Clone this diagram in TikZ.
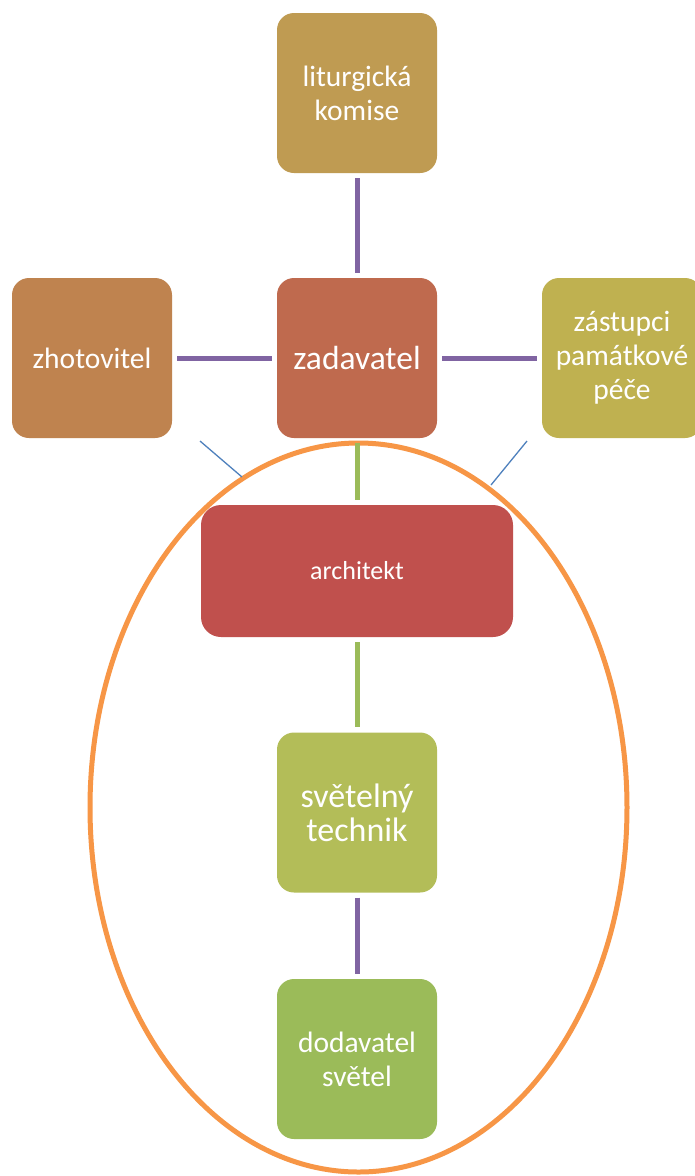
\documentclass[tikz,border=0pt]{standalone}
\usepackage{fontspec}
\setmainfont{Carlito}
\definecolor{cLit}{HTML}{BF9B52}
\definecolor{cZho}{HTML}{BF834F}
\definecolor{cZad}{HTML}{BF6A4E}
\definecolor{cZas}{HTML}{BFB150}
\definecolor{cArch}{HTML}{C0504D}
\definecolor{cSvt}{HTML}{B3BD58}
\definecolor{cDod}{HTML}{9BBB59}
\definecolor{cPurple}{HTML}{8064A2}
\definecolor{cGreen}{HTML}{9BBB59}
\definecolor{cOrange}{HTML}{F79646}
\definecolor{cBlue}{HTML}{4F81BD}
\begin{document}
\begin{tikzpicture}[x=1pt,y=-1pt,
  box/.style={rounded corners=17pt, inner sep=0pt, minimum width=160pt, minimum height=160pt,
    text=white, align=center, font=\fontsize{29.5}{34}\selectfont},
  purpleline/.style={draw=cPurple, line width=5pt, shorten <=5pt, shorten >=5pt},
  greenline/.style={draw=cGreen, line width=5pt, shorten <=5pt, shorten >=5pt},
  blueline/.style={draw=cBlue, line width=1.3pt}]
\useasboundingbox (0,0) rectangle (694,1176);
\fill[white] (0,0) rectangle (694,1176);
% ellipse
\draw[cOrange, line width=5pt] (358.5,807.5) ellipse [x radius=268.5pt, y radius=364.5pt];
% boxes
\node[box, fill=cLit] (lit) at (357,93) {liturgická\\komise};
\node[box, fill=cZho] (zho) at (92,358) {zhotovitel};
\node[box, fill=cZad, font=\fontsize{33.5}{38}\selectfont] (zad) at (357,358) {zadavatel};
\node[box, fill=cZas] (zas) at (622,358) {zástupci\\památkové\\péče};
\node[box, fill=cArch, minimum width=312pt, minimum height=132pt, rounded corners=20pt,
  font=\fontsize{26}{30}\selectfont] (arch) at (357,571) {architekt};
\node[box, fill=cSvt, font=\fontsize{34}{34}\selectfont] (svt) at (357,812.5) {světelný\\technik};
\node[box, fill=cDod] (dod) at (357,1059) {dodavatel\\světel};
% connectors
\draw[purpleline] (lit) -- (zad);
\draw[purpleline] (zho) -- (zad);
\draw[purpleline] (zad) -- (zas);
\draw[greenline] (zad) -- (arch);
\draw[greenline] (arch) -- (svt);
\draw[purpleline] (svt) -- (dod);
% blue ties to the ellipse
\coordinate (bl1) at (200,441);
\coordinate (bl2) at (242,477);
\coordinate (br1) at (527,441);
\coordinate (br2) at (491,485);
\draw[blueline] (bl1) -- (bl2);
\draw[blueline] (br1) -- (br2);
\end{tikzpicture}
\end{document}
